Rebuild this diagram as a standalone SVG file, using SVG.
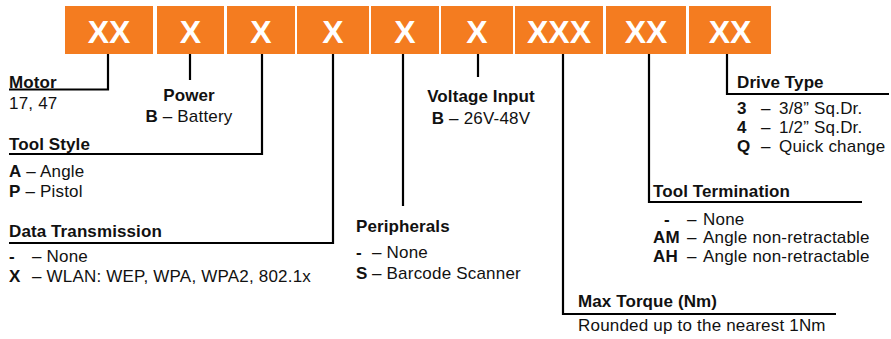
<svg xmlns="http://www.w3.org/2000/svg" width="891" height="339" viewBox="0 0 891 339">
<style>
text{font-family:"Liberation Sans",Arial,sans-serif;font-size:17px;fill:#111;letter-spacing:0.2px}
.b{font-weight:bold;letter-spacing:0.1px}
.code{font-weight:bold;font-size:32px;fill:#fff;text-anchor:middle;letter-spacing:0}
.box{fill:#F47C20}
.c{fill:none;stroke:#000;stroke-width:2.2}
.m{text-anchor:middle}
</style>
<rect width="891" height="339" fill="#fff"/>
<g id="code-boxes">
<g id="box1"><rect class="box" x="65" y="6" width="88" height="48"/><text class="code" x="109" y="43">XX</text></g>
<g id="box2"><rect class="box" x="157" y="6" width="67" height="48"/><text class="code" x="190.5" y="43">X</text></g>
<g id="box3"><rect class="box" x="227" y="6" width="68" height="48"/><text class="code" x="261" y="43">X</text></g>
<g id="box4"><rect class="box" x="297" y="6" width="72" height="48"/><text class="code" x="333" y="43">X</text></g>
<g id="box5"><rect class="box" x="371" y="6" width="68" height="48"/><text class="code" x="405" y="43">X</text></g>
<g id="box6"><rect class="box" x="441" y="6" width="72" height="48"/><text class="code" x="477" y="43">X</text></g>
<g id="box7"><rect class="box" x="515" y="6" width="88" height="48"/><text class="code" x="559" y="43">XXX</text></g>
<g id="box8"><rect class="box" x="606" y="6" width="80" height="48"/><text class="code" x="646" y="43">XX</text></g>
<g id="box9"><rect class="box" x="689" y="6" width="82" height="48"/><text class="code" x="730" y="43">XX</text></g>
</g>
<g id="connectors">
<path class="c" d="M108,54 V89.5 H9"/>
<path class="c" d="M190,54 V80"/>
<path class="c" d="M262,54 V154 H9"/>
<path class="c" d="M333,54 V243 H9"/>
<path class="c" d="M403,54 V206"/>
<path class="c" d="M478,54 V77"/>
<path class="c" d="M563,54 V314 H836"/>
<path class="c" d="M649,54 V202 H862"/>
<path class="c" d="M727,54 V94 H889"/>
</g>
<g id="motor">
<text class="b" x="9" y="88">Motor</text>
<text x="9" y="109">17, 47</text>
</g>
<g id="power">
<text class="b m" x="189" y="101">Power</text>
<text class="m" x="189" y="122"><tspan class="b">B</tspan> – Battery</text>
</g>
<g id="tool-style">
<text class="b" x="9" y="150">Tool Style</text>
<text x="9" y="177"><tspan class="b">A</tspan> – Angle</text>
<text x="9" y="197"><tspan class="b">P</tspan> – Pistol</text>
</g>
<g id="data-transmission">
<text class="b" x="9" y="237">Data Transmission</text>
<text x="9" y="262"><tspan class="b">-</tspan><tspan x="32">– None</tspan></text>
<text x="9" y="282"><tspan class="b">X</tspan><tspan x="32">– WLAN: WEP, WPA, WPA2, 802.1x</tspan></text>
</g>
<g id="peripherals">
<text class="b" x="356" y="232">Peripherals</text>
<text x="356" y="258"><tspan class="b">-</tspan><tspan x="372">– None</tspan></text>
<text x="356" y="279"><tspan class="b">S</tspan><tspan x="372">– Barcode Scanner</tspan></text>
</g>
<g id="voltage-input">
<text class="b m" x="481" y="102">Voltage Input</text>
<text class="m" x="481" y="124"><tspan class="b">B</tspan> – 26V-48V</text>
</g>
<g id="max-torque">
<text class="b" x="578" y="307">Max Torque (Nm)</text>
<text x="578" y="331">Rounded up to the nearest 1Nm</text>
</g>
<g id="tool-termination">
<text class="b" x="653" y="197">Tool Termination</text>
<text x="664" y="225"><tspan class="b">-</tspan><tspan x="687">–</tspan><tspan x="703">None</tspan></text>
<text x="653" y="243"><tspan class="b">AM</tspan><tspan x="687">–</tspan><tspan x="703">Angle non-retractable</tspan></text>
<text x="653" y="262"><tspan class="b">AH</tspan><tspan x="687">–</tspan><tspan x="703">Angle non-retractable</tspan></text>
</g>
<g id="drive-type">
<text class="b" x="737" y="88">Drive Type</text>
<text x="737" y="114"><tspan class="b">3</tspan><tspan x="761">–</tspan><tspan x="779">3/8” Sq.Dr.</tspan></text>
<text x="737" y="133"><tspan class="b">4</tspan><tspan x="761">–</tspan><tspan x="779">1/2” Sq.Dr.</tspan></text>
<text x="737" y="152"><tspan class="b">Q</tspan><tspan x="761">–</tspan><tspan x="779">Quick change</tspan></text>
</g>
</svg>
